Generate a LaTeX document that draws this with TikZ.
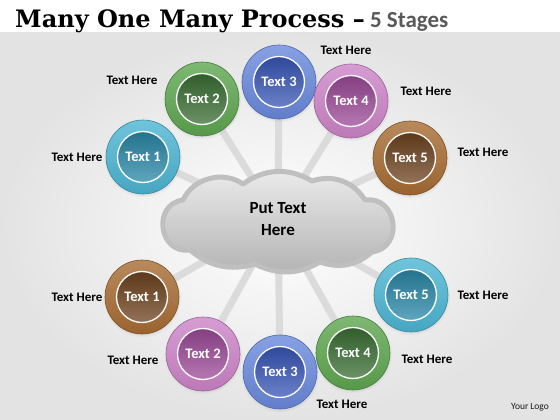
\documentclass[tikz,border=0pt]{standalone}
\usepackage{fontspec}
\setmainfont{Carlito}
\newfontfamily\titlefont{DejaVu Serif}
\usetikzlibrary{shadows,positioning,backgrounds}

\definecolor{cyanring}{HTML}{4CB5D2}
\definecolor{cyancore}{HTML}{2A87A8}
\definecolor{greenring}{HTML}{5EA650}
\definecolor{greencore}{HTML}{3A6E33}
\definecolor{bluering}{HTML}{6A89DD}
\definecolor{bluecore}{HTML}{3856B6}
\definecolor{purplering}{HTML}{CC84C7}
\definecolor{purplecore}{HTML}{9C4A98}
\definecolor{brownring}{HTML}{A76C33}
\definecolor{browncore}{HTML}{6E431F}

\begin{document}
\begin{tikzpicture}[x=1pt,y=-1pt,
    ring/.style={circle, inner sep=0pt, minimum size=74pt,
        top color=#1ring!80!white, bottom color=#1ring!92!black,
        draw=#1ring!75!black, line width=0.6pt,
        circular drop shadow={shadow xshift=0pt, shadow yshift=-1pt,
            shadow scale=1.06, opacity=0.25}},
    core/.style={circle, inner sep=0pt, minimum size=51pt,
        top color=#1core!85!black, bottom color=#1core!75!white,
        draw=white, line width=1.3pt, text=white,
        font=\bfseries\fontsize{14.5}{15}\selectfont},
    hint/.style={font=\bfseries\fontsize{13}{14}\selectfont},
    link/.style={line width=7pt, draw=gray!28, line cap=round},
    puff/.style={top color=gray!15, bottom color=gray!60,
        draw=gray!50, line width=5pt, line join=round}
]
% title
\node[anchor=base west, inner sep=0pt] (title) at (15,28)
    {\titlefont\bfseries\fontsize{24}{24}\selectfont Many One Many Process –%
     \fontspec{Carlito}\bfseries\color{gray!70!black}\fontsize{23}{23}\selectfont\ 5 Stages};

% centre
\draw[puff] (183,200) to[bend left=50] (243,184)
    to[bend left=33] (312,181)
    to[bend left=38] (365,200)
    to[bend left=90, looseness=1.6] (372,252)
    to[bend left=30] (320,262)
    to[bend left=28] (255,264)
    to[bend left=28] (190,250)
    to[bend left=90, looseness=1.6] (183,200) -- cycle;
\node[align=center, font=\bfseries\fontsize{17}{22}\selectfont] (cloud) at (278,219)
    {Put Text\\Here};

% stages
\foreach \n/\x/\y/\c/\t in {a1/143/157/cyan/1, a2/202/99/green/2,
    a3/279/82/blue/3, a4/351/101/purple/4, a5/410/158/brown/5,
    b1/142/297/brown/1, b2/203/354/purple/2, b3/280/372/blue/3,
    b4/353/353/green/4, b5/411/295/cyan/5}
{
    \node[ring=\c] (\n) at (\x,\y) {};
    \node[core=\c] (\n c) at (\n) {Text \t};
}

% labels
\foreach \n/\x/\y in {a1/77/157, a2/132/80, a3/346/50, a4/426/91, a5/483/152,
    b1/77/297, b2/133/360, b3/342/404, b4/427/359, b5/483/295}
    \node[hint] (h\n) at (\x,\y) {Text Here};

\node[font=\fontsize{9.5}{10}\selectfont, text=gray!20!black] (logo) at (530,407) {Your Logo};

\begin{pgfonlayer}{background}
    \fill[white] (0,0) rectangle (560,33);
    \shade[inner color=white, outer color=gray!22] (0,33) rectangle (560,420);
    \foreach \n in {a1,a2,a3,a4,a5,b1,b2,b3,b4,b5}
        \draw[link] (cloud.center) -- (\n.center);
\end{pgfonlayer}
\end{tikzpicture}
\end{document}
